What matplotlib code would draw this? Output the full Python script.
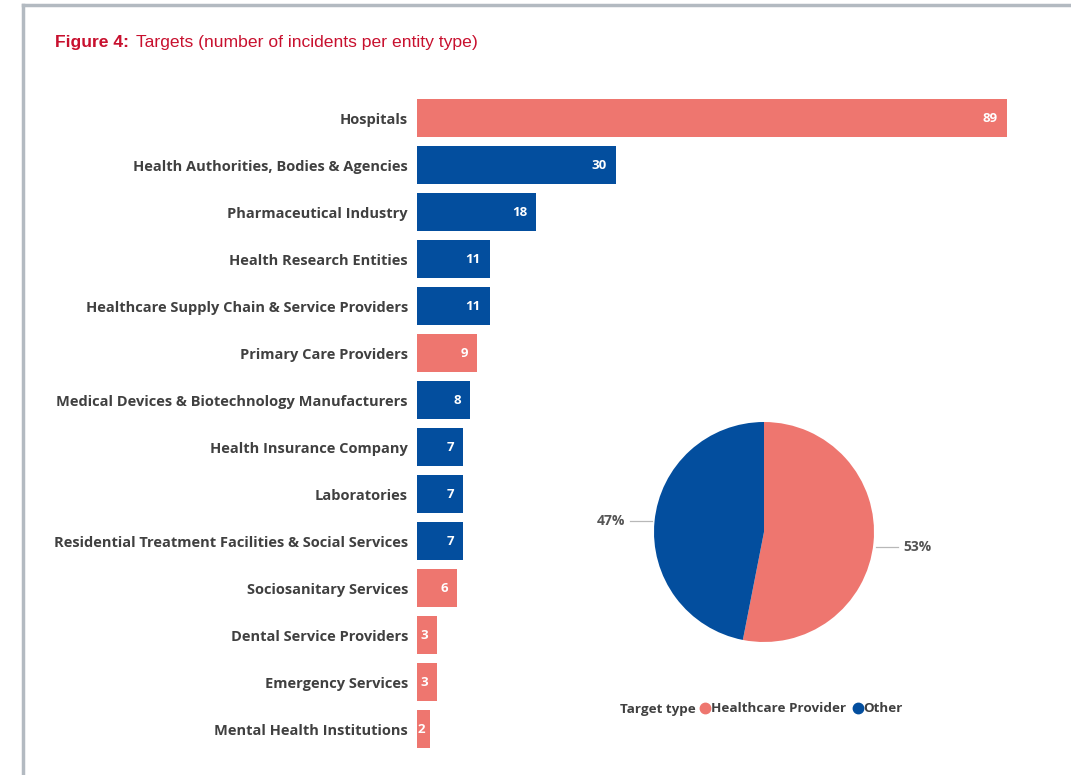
import matplotlib.pyplot as plt
from matplotlib.lines import Line2D
import numpy as np

W, H = 1071, 775

categories = [
    "Hospitals",
    "Health Authorities, Bodies & Agencies",
    "Pharmaceutical Industry",
    "Health Research Entities",
    "Healthcare Supply Chain & Service Providers",
    "Primary Care Providers",
    "Medical Devices & Biotechnology Manufacturers",
    "Health Insurance Company",
    "Laboratories",
    "Residential Treatment Facilities & Social Services",
    "Sociosanitary Services",
    "Dental Service Providers",
    "Emergency Services",
    "Mental Health Institutions",
]
counts = [89, 30, 18, 11, 11, 9, 8, 7, 7, 7, 6, 3, 3, 2]
target_type = ["Healthcare Provider", "Other", "Other", "Other", "Other",
               "Healthcare Provider", "Other", "Other", "Other", "Other",
               "Healthcare Provider", "Healthcare Provider", "Healthcare Provider",
               "Healthcare Provider"]

type_names = ["Healthcare Provider", "Other"]
type_colors = {"Healthcare Provider": "#EE766F", "Other": "#034E9E"}

TEXT = "#404040"
FONT = "Open Sans"

fig = plt.figure(figsize=(W / 100, H / 100), dpi=100)

def box(x0, y0, x1, y1):
    # pixel box (top-left origin) -> figure fraction rect
    return [x0 / W, 1 - y1 / H, (x1 - x0) / W, (y1 - y0) / H]

# frame lines
frame = fig.add_axes([0, 0, 1, 1])
frame.set_xlim(0, W)
frame.set_ylim(H, 0)
frame.axis("off")
frame.plot([23, 23], [5, H], color="#b3bac1", lw=2.5)
frame.plot([23, W], [5, 5], color="#b3bac1", lw=2.5)

# title
fig.text(55 / W, 1 - 42 / H, "Figure 4:", color="#C8102E", fontsize=12.6,
         fontweight="bold", family="Liberation Sans", va="center")
fig.text(136 / W, 1 - 42 / H, "Targets (number of incidents per entity type)",
         color="#C8102E", fontsize=12.6, family="Liberation Sans", va="center")

# bar chart
ax = fig.add_axes(box(417, 94.5, 1007, 752.5))
y = np.arange(len(categories))
colors = [type_colors[t] for t in target_type]
ax.barh(y, counts, height=0.79, color=colors)
ax.set_xlim(0, max(counts))
ax.set_ylim(len(categories) - 0.5, -0.5)
for s in ax.spines.values():
    s.set_visible(False)
ax.set_xticks([])
ax.set_yticks(y)
ax.set_yticklabels(categories, fontsize=10.5, fontweight="bold", color=TEXT, family=FONT)
ax.tick_params(axis="y", length=0, pad=6.5)
for yi, v in zip(y, counts):
    if v > 2:
        ax.annotate(str(v), (v, yi), xytext=(-6.5, 0), textcoords="offset points",
                    ha="right", va="center", color="white", fontsize=9.5,
                    fontweight="bold", family=FONT)
    else:
        ax.annotate(str(v), (0, yi), xytext=(0.3, 0), textcoords="offset points",
                    ha="left", va="center", color="white", fontsize=9.5,
                    fontweight="bold", family=FONT)

# pie chart
totals = [sum(c for c, t in zip(counts, target_type) if t == n) for n in type_names]
pax = fig.add_axes(box(654, 422, 874, 642))
wedges, _ = pax.pie(totals, colors=[type_colors[n] for n in type_names],
                    startangle=90, counterclock=False, radius=1)
pax.set_xlim(-1, 1)
pax.set_ylim(-1, 1)
pax.set_aspect("equal")
total = sum(totals)
for w, v in zip(wedges, totals):
    ang = np.deg2rad((w.theta1 + w.theta2) / 2)
    px, py = np.cos(ang), np.sin(ang)
    sgn = np.sign(px)
    if sgn > 0:
        py -= 0.04
    pax.plot([px + sgn * 0.02, px + sgn * 0.22], [py, py], color="#b8b8b8",
             lw=0.9, clip_on=False)
    pax.text(px + sgn * 0.27, py, f"{v / total * 100:.0f}%", ha="left" if sgn > 0 else "right",
             va="center", fontsize=10, fontweight="bold", color="#555555", family=FONT)

# legend
fig.text(620 / W, 1 - 709 / H, "Target type", fontsize=9.7, fontweight="bold",
         color=TEXT, family=FONT, va="center")
handles = [Line2D([], [], marker="o", ls="", color=type_colors[n], markersize=7.5)
           for n in type_names]
leg = fig.legend(handles, type_names, loc="center left",
                 bbox_to_anchor=(701 / W, 1 - 709 / H), ncol=2, frameon=False,
                 handlelength=0.6, handletextpad=0.1, columnspacing=0.55,
                 borderpad=0, borderaxespad=0)
for t in leg.get_texts():
    t.set_fontsize(9.7)
    t.set_fontweight("bold")
    t.set_color(TEXT)
    t.set_family(FONT)

fig.savefig("out.png", dpi=100)
